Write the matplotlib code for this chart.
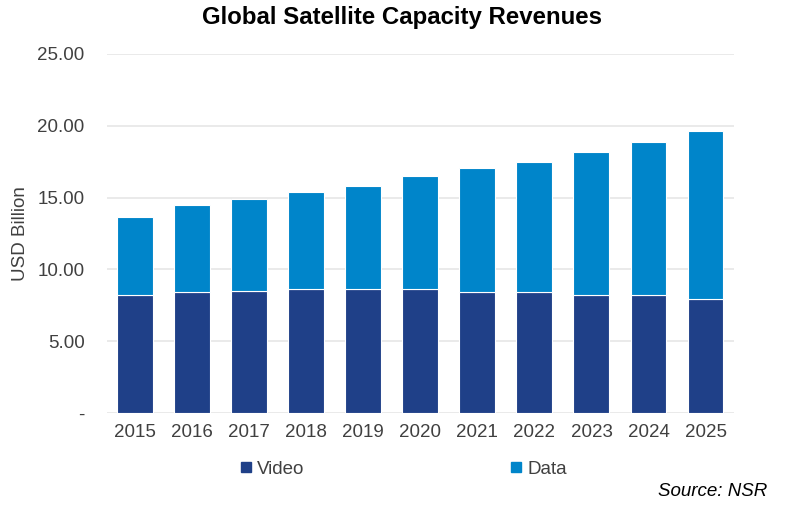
import numpy as np
import matplotlib
matplotlib.use('Agg')
import matplotlib.pyplot as plt
from matplotlib.lines import Line2D

# values (USD billion)
years = ['2015', '2016', '2017', '2018', '2019', '2020',
         '2021', '2022', '2023', '2024', '2025']
video = [8.23, 8.44, 8.53, 8.64, 8.64, 8.64, 8.43, 8.43, 8.20, 8.20, 7.97]
total = [13.67, 14.46, 14.88, 15.41, 15.83, 16.50, 17.03, 17.47, 18.15, 18.89, 19.65]
data = [t - v for t, v in zip(total, video)]

yticks = [0, 5, 10, 15, 20, 25]
ytick_labels = ['-', '5.00', '10.00', '15.00', '20.00', '25.00']

video_col = '#1f4088'
data_col = '#0085ca'
text_col = '#404040'

plt.rcParams['font.family'] = ['Liberation Sans', 'DejaVu Sans']

fig = plt.figure(figsize=(7.88, 5.08), dpi=100)
ax = fig.add_axes([0.1354, 0.1864, 0.7961, 0.7079])

x = np.arange(len(years))
ax.bar(x, video, width=0.63, color=video_col, edgecolor='white', linewidth=0.8, zorder=3)
ax.bar(x, data, width=0.63, bottom=video, color=data_col, edgecolor='white', linewidth=0.8, zorder=3)

ax.set_xlim(-0.5, len(years) - 0.5)
ax.set_ylim(0, 25)
ax.set_yticks(yticks)
ax.set_yticklabels(ytick_labels)
ax.set_xticks(x)
ax.set_xticklabels(years)
ax.tick_params(axis='both', length=0, labelsize=13.5, colors=text_col)
ax.tick_params(axis='y', pad=16)
ax.tick_params(axis='x', pad=8)
ax.grid(axis='y', color='#e6e6e6', linewidth=1.2, zorder=0)
for s in ax.spines.values():
    s.set_visible(False)

ax.set_ylabel('USD Billion', fontsize=13.5, color=text_col, labelpad=6)

fig.text(0.5096, 0.966, 'Global Satellite Capacity Revenues', ha='center', va='center',
         fontsize=17.3, fontweight='bold', color='black')

handles = [Line2D([], [], marker='s', linestyle='none', color=video_col, markersize=6.5),
           Line2D([], [], marker='s', linestyle='none', color=data_col, markersize=6.5)]
fig.legend(handles, ['Video', 'Data'], loc='center left', bbox_to_anchor=(0.283, 0.076),
           ncol=2, frameon=False, fontsize=13.5, handlelength=0.6, handletextpad=0.3,
           columnspacing=11.0, labelcolor=text_col)

fig.text(0.974, 0.033, 'Source: NSR', ha='right', va='center', fontsize=13.5,
         style='italic', color='black')

fig.savefig('out.png', dpi=100)
